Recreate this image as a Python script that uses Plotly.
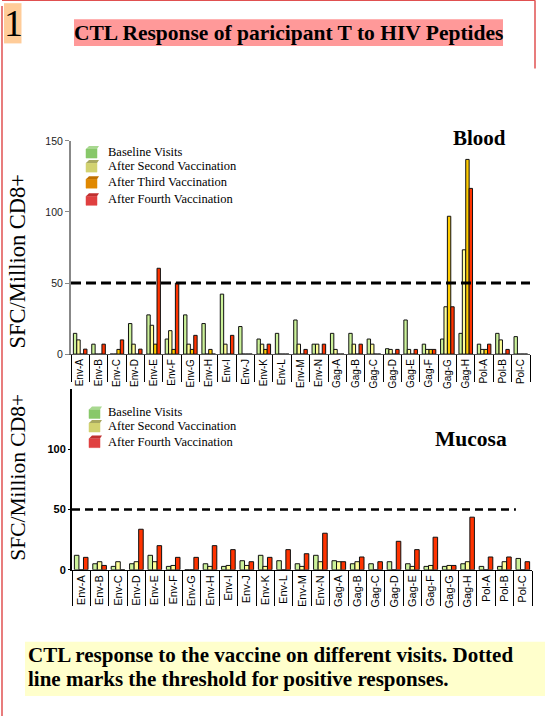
import plotly.graph_objects as go

categories = ["Env-A", "Env-B", "Env-C", "Env-D", "Env-E", "Env-F", "Env-G", "Env-H",
              "Env-I", "Env-J", "Env-K", "Env-L", "Env-M", "Env-N",
              "Gag-A", "Gag-B", "Gag-C", "Gag-D", "Gag-E", "Gag-F", "Gag-G", "Gag-H",
              "Pol-A", "Pol-B", "Pol-C"]

# Blood (SFC / million CD8+)
blood_baseline = [14.6, 7, 0, 21.5, 27.6, 10.6, 27.6, 21.5, 42.2, 19.4, 10.6, 14.6,
                  24, 7, 14.6, 14.6, 10.6, 3.8, 24, 7, 10.6, 14.6, 7, 14.6, 12.3]
blood_second = [10, 0, 0, 7, 20.3, 16.5, 7, 0, 7, 0, 7, 0,
                7, 7, 3.3, 7, 7, 3.3, 3.3, 3.3, 33.3, 73.4, 3.3, 10, 0]
blood_third = [0, 0, 3.3, 0, 7, 3.3, 3.3, 3.3, 0, 0, 3.3, 0,
               0, 0, 0, 0, 0, 0, 0, 3.3, 97, 137, 3.3, 0, 0]
blood_fourth = [3.5, 7, 10, 3.5, 60.4, 50, 13.2, 0, 13.2, 0, 7, 0,
                3.3, 7, 0, 7, 0, 3.3, 3.3, 3.3, 33.3, 116.6, 7, 3.3, 0]

# Mucosa (SFC / million CD8+)
mucosa_baseline = [12, 5, 2.8, 5, 12, 2.8, 0, 5, 2.8, 7.5, 12, 7.5,
                   5, 12, 7.5, 5, 5, 6.7, 5, 2.8, 2.8, 5, 2.8, 2.8, 9.4]
mucosa_second = [0, 6.7, 6.7, 6.7, 6.7, 3.6, 0, 2.8, 3.6, 3.6, 2.8, 0,
                 2.8, 6.7, 6.7, 6.7, 0, 0, 2.8, 3.6, 3.6, 6.7, 0, 6.7, 0]
mucosa_fourth = [10.3, 3.6, 0, 33.6, 20, 10.3, 10.3, 20, 16.7, 6.7, 10.3, 16.7,
                 13.3, 30.3, 6.7, 10.6, 6.7, 23.6, 16.7, 27, 3.6, 43.6, 10.6, 10.6, 6.7]

threshold = 50
blood_ticks = [0, 50, 100, 150]
mucosa_ticks = [0, 50, 100]

W, H = 545, 722
SERIF = "Liberation Serif"
SANS = "Liberation Sans"
# observed vertical mapping of the page capture: shown_y = Y_OFF + Y_SCALE * figure_y
Y_OFF, Y_SCALE = 7.8, 0.978


def px(x):
    return x / W


def py(y):
    return 1 - ((y - Y_OFF) / Y_SCALE) / H


GREEN, YELLOW, ORANGE, RED = "#ccf29a", "#ffff99", "#ffcc00", "#ff3300"

fig = go.Figure()
blood_series = [("Baseline Visits", blood_baseline, GREEN),
                ("After Second Vaccination", blood_second, YELLOW),
                ("After Third Vaccination", blood_third, ORANGE),
                ("After Fourth Vaccination", blood_fourth, RED)]
for name, vals, color in blood_series:
    fig.add_trace(go.Bar(x=categories, y=vals, name=name, xaxis="x", yaxis="y",
                         marker=dict(color=color, line=dict(color="#111", width=1)),
                         showlegend=False))

mucosa_series = [("Baseline Visits", mucosa_baseline, GREEN),
                 ("After Second Vaccination", mucosa_second, YELLOW),
                 ("After Fourth Vaccination", mucosa_fourth, RED)]
for name, vals, color in mucosa_series:
    fig.add_trace(go.Bar(x=categories, y=vals, name=name, xaxis="x2", yaxis="y2",
                         marker=dict(color=color, line=dict(color="#111", width=1)),
                         showlegend=False))

n = len(categories)
boundaries = [i - 0.5 for i in range(n + 1)]

bx = [px(71), px(530)]
by = [py(354), py(142)]
mx = [px(72), px(532)]
my = [py(568.5), py(388.5)]

common_x = dict(type="category", categoryorder="array", categoryarray=categories,
                range=[-0.5, n - 0.5], showgrid=False, zeroline=False, ticks="",
                tickangle=-90)
sep_x = dict(range=[-0.5, n - 0.5], showgrid=False, zeroline=False, showline=False,
             ticks="outside", tickvals=boundaries, showticklabels=False,
             tickcolor="#000", tickwidth=1)

fig.update_layout(
    width=W, height=H, autosize=False, margin=dict(l=0, r=0, t=0, b=0),
    paper_bgcolor="white", plot_bgcolor="rgba(0,0,0,0)",
    barmode="group", bargap=0.26, bargroupgap=0,
    showlegend=False,
    xaxis=dict(domain=bx, anchor="y", showline=True, linecolor="#555", linewidth=1,
               tickfont=dict(family=SANS, size=10, color="#000"), **common_x),
    yaxis=dict(domain=by, anchor="x", range=[0, 150], tickvals=blood_ticks,
               showgrid=False, zeroline=False, showline=True, linecolor="#888", linewidth=2,
               ticks="outside", ticklen=4, tickcolor="#888",
               tickfont=dict(family=SANS, size=10.5, color="#222")),
    xaxis3=dict(domain=bx, anchor="y", overlaying="x", ticklen=27, **sep_x),
    xaxis2=dict(domain=mx, anchor="y2", showline=True, linecolor="#000", linewidth=1,
                tickfont=dict(family=SANS, size=11, color="#000"), **common_x),
    yaxis2=dict(domain=my, anchor="x2", range=[0, 150], tickvals=mucosa_ticks,
                showgrid=False, zeroline=False, showline=True, linecolor="#000", linewidth=2,
                ticks="outside", ticklen=2, tickcolor="#000",
                tickfont=dict(family=SANS, size=11, color="#000", weight="bold")),
    xaxis4=dict(domain=mx, anchor="y2", overlaying="x2", ticklen=35, **sep_x),
)

# invisible traces to activate separator axes
fig.add_trace(go.Scatter(x=[-0.5, n - 0.5], y=[0, 0], xaxis="x3", yaxis="y",
                         mode="lines", line=dict(width=0), hoverinfo="skip", showlegend=False))
fig.add_trace(go.Scatter(x=[-0.5, n - 0.5], y=[0, 0], xaxis="x4", yaxis="y2",
                         mode="lines", line=dict(width=0), hoverinfo="skip", showlegend=False))

shapes = []
# threshold lines
shapes.append(dict(type="line", xref="x domain", yref="y", x0=0, x1=1, y0=threshold, y1=threshold,
                   line=dict(color="black", width=3, dash="10px,5px")))
shapes.append(dict(type="line", xref="x2 domain", yref="y2", x0=0, x1=0.965, y0=threshold, y1=threshold,
                   line=dict(color="black", width=2.5, dash="8px,5px")))

# page border
BORDER = "#e05050"
shapes.append(dict(type="line", xref="paper", yref="paper", x0=px(2), x1=px(2), y0=0, y1=1,
                   line=dict(color=BORDER, width=1.5)))
shapes.append(dict(type="line", xref="paper", yref="paper", x0=px(2), x1=px(535), y0=py(2), y1=py(2),
                   line=dict(color=BORDER, width=1.5)))
shapes.append(dict(type="line", xref="paper", yref="paper", x0=px(535), x1=px(535), y0=py(70), y1=py(2),
                   line=dict(color=BORDER, width=1.5)))

# backgrounds
shapes.append(dict(type="rect", xref="paper", yref="paper", x0=px(25), x1=1, y0=py(694), y1=py(640),
                   fillcolor="#ffffcc", line=dict(width=0), layer="below"))
shapes.append(dict(type="rect", xref="paper", yref="paper", x0=px(74), x1=px(503), y0=py(47.5), y1=py(21),
                   fillcolor="#ff9999", line=dict(width=0), layer="below"))
shapes.append(dict(type="rect", xref="paper", yref="paper", x0=px(4), x1=px(21.5), y0=py(45), y1=py(5),
                   fillcolor="#ffcc99", line=dict(width=0), layer="below"))

annotations = []


def legend(entries, x_icon, ys):
    for (label, front, top), y in zip(entries, ys):
        shapes.append(dict(type="rect", xref="paper", yref="paper",
                           x0=px(x_icon), x1=px(x_icon + 11), y0=py(y + 6), y1=py(y - 3),
                           fillcolor=front, line=dict(color=front, width=0.5)))
        shapes.append(dict(type="path", xref="paper", yref="paper",
                           path=f"M {px(x_icon)} {py(y - 3)} L {px(x_icon + 3)} {py(y - 6)} "
                                f"L {px(x_icon + 13)} {py(y - 6)} L {px(x_icon + 11)} {py(y - 3)} Z",
                           fillcolor=top, line=dict(width=0)))
        annotations.append(dict(xref="paper", yref="paper", x=px(106), y=py(y), text=label,
                                showarrow=False, xanchor="left", yanchor="middle",
                                font=dict(family=SERIF, size=12.5, color="#000")))


legend([("Baseline Visits", "#88c86a", "#a8d890"),
        ("After Second Vaccination", "#d2d270", "#a8a860"),
        ("After Third Vaccination", "#e08800", "#c07000"),
        ("After Fourth Vaccination", "#e04040", "#c03030")],
       86, [153, 167, 183, 200])
legend([("Baseline Visits", "#88c86a", "#a8d890"),
        ("After Second Vaccination", "#d2d270", "#a8a860"),
        ("After Fourth Vaccination", "#e04040", "#c03030")],
       89, [412, 425.5, 441])

# titles
annotations.append(dict(xref="paper", yref="paper", x=px(288.5), y=py(34.5), showarrow=False,
                        text="<b>CTL Response of paricipant T to HIV Peptides</b>",
                        xanchor="center", yanchor="middle",
                        font=dict(family=SERIF, size=21.5, color="#000")))
annotations.append(dict(xref="paper", yref="paper", x=px(13), y=py(25), showarrow=False,
                        text="1", xanchor="center", yanchor="middle",
                        font=dict(family=SERIF, size=38, color="#000")))
annotations.append(dict(xref="paper", yref="paper", x=px(479.5), y=py(139), showarrow=False,
                        text="<b>Blood</b>", xanchor="center", yanchor="middle",
                        font=dict(family=SERIF, size=21, color="#000")))
annotations.append(dict(xref="paper", yref="paper", x=px(470.5), y=py(438), showarrow=False,
                        text="<b>Mucosa</b>", xanchor="center", yanchor="middle",
                        font=dict(family=SERIF, size=21.5, color="#000")))
annotations.append(dict(xref="paper", yref="paper", x=px(18), y=py(262), showarrow=False,
                        text="SFC/Million CD8+", textangle=-90, xanchor="center", yanchor="middle",
                        font=dict(family=SERIF, size=22.5, color="#000")))
annotations.append(dict(xref="paper", yref="paper", x=px(18), y=py(477), showarrow=False,
                        text="SFC/Million CD8+", textangle=-90, xanchor="center", yanchor="middle",
                        font=dict(family=SERIF, size=21.5, color="#000")))
annotations.append(dict(xref="paper", yref="paper", x=px(26), y=py(653), showarrow=False,
                        text="<b>CTL response to the vaccine on different visits. Dotted</b>",
                        align="left", xanchor="left", yanchor="middle",
                        font=dict(family=SERIF, size=21, color="#000")))
annotations.append(dict(xref="paper", yref="paper", x=px(26), y=py(677.5), showarrow=False,
                        text="<b>line marks the threshold for positive responses.</b>",
                        align="left", xanchor="left", yanchor="middle",
                        font=dict(family=SERIF, size=21, color="#000")))

fig.update_layout(shapes=shapes, annotations=annotations)
fig.write_html("out.html",
               config={"displayModeBar": False, "responsive": False},
               post_script="document.body.style.margin='0';document.body.style.overflow='hidden';")
